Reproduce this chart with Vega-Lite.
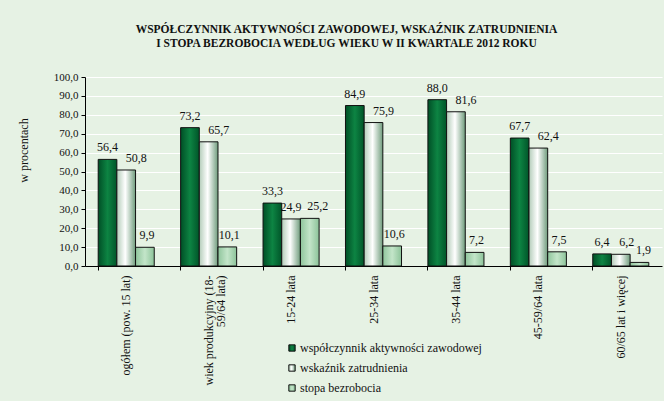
{
  "$schema": "https://vega.github.io/schema/vega-lite/v6.json",
  "autosize": {"type": "none"},
  "width": 577,
  "height": 189,
  "padding": {"left": 85, "top": 77, "right": 2, "bottom": 135},
  "background": "#e6f2e4",
  "config": {
    "locale": {"number": {"decimal": ",", "thousands": " ", "grouping": [3], "currency": ["", " zł"]}},
    "view": {"stroke": null, "fill": null},
    "font": "Liberation Serif",
    "style": {"guide-label": {"font": "Liberation Serif"}, "guide-title": {"font": "Liberation Serif"}},
    "axis": {"labelFont": "Liberation Serif", "titleFont": "Liberation Serif", "labelColor": "#111", "titleColor": "#111", "domainColor": "#000", "tickColor": "#000"},
    "legend": {"labelFont": "Liberation Serif", "titleFont": "Liberation Serif"}
  },
  "title": {
    "text": ["WSPÓŁCZYNNIK   AKTYWNOŚCI   ZAWODOWEJ,   WSKAŹNIK   ZATRUDNIENIA", "I   STOPA   BEZROBOCIA   WEDŁUG   WIEKU   W   II KWARTALE   2012   ROKU"],
    "font": "Liberation Serif",
    "fontSize": 11.5,
    "fontWeight": "bold",
    "color": "#111",
    "anchor": "middle",
    "frame": "group",
    "dx": -27,
    "offset": 22,
    "lineHeight": 14
  },
  "data": {
    "values": [
      {"kategoria": "ogółem (pow. 15 lat)", "seria": "współczynnik aktywności zawodowej", "wartosc": 56.4},
      {"kategoria": "ogółem (pow. 15 lat)", "seria": "wskaźnik zatrudnienia", "wartosc": 50.8},
      {"kategoria": "ogółem (pow. 15 lat)", "seria": "stopa bezrobocia", "wartosc": 9.9},
      {"kategoria": "wiek produkcyjny (18-59/64 lata)", "seria": "współczynnik aktywności zawodowej", "wartosc": 73.2},
      {"kategoria": "wiek produkcyjny (18-59/64 lata)", "seria": "wskaźnik zatrudnienia", "wartosc": 65.7},
      {"kategoria": "wiek produkcyjny (18-59/64 lata)", "seria": "stopa bezrobocia", "wartosc": 10.1},
      {"kategoria": "15-24 lata", "seria": "współczynnik aktywności zawodowej", "wartosc": 33.3},
      {"kategoria": "15-24 lata", "seria": "wskaźnik zatrudnienia", "wartosc": 24.9},
      {"kategoria": "15-24 lata", "seria": "stopa bezrobocia", "wartosc": 25.2},
      {"kategoria": "25-34 lata", "seria": "współczynnik aktywności zawodowej", "wartosc": 84.9},
      {"kategoria": "25-34 lata", "seria": "wskaźnik zatrudnienia", "wartosc": 75.9},
      {"kategoria": "25-34 lata", "seria": "stopa bezrobocia", "wartosc": 10.6},
      {"kategoria": "35-44 lata", "seria": "współczynnik aktywności zawodowej", "wartosc": 88.0},
      {"kategoria": "35-44 lata", "seria": "wskaźnik zatrudnienia", "wartosc": 81.6},
      {"kategoria": "35-44 lata", "seria": "stopa bezrobocia", "wartosc": 7.2},
      {"kategoria": "45-59/64 lata", "seria": "współczynnik aktywności zawodowej", "wartosc": 67.7},
      {"kategoria": "45-59/64 lata", "seria": "wskaźnik zatrudnienia", "wartosc": 62.4},
      {"kategoria": "45-59/64 lata", "seria": "stopa bezrobocia", "wartosc": 7.5},
      {"kategoria": "60/65 lat i więcej", "seria": "współczynnik aktywności zawodowej", "wartosc": 6.4},
      {"kategoria": "60/65 lat i więcej", "seria": "wskaźnik zatrudnienia", "wartosc": 6.2},
      {"kategoria": "60/65 lat i więcej", "seria": "stopa bezrobocia", "wartosc": 1.9}
    ]
  },
  "encoding": {
    "x": {
      "field": "kategoria",
      "type": "nominal",
      "sort": null,
      "scale": {"paddingInner": 0.32, "paddingOuter": 0.16},
      "axis": {
        "title": null,
        "labelAngle": -90,
        "labelFontSize": 12,
        "labelPadding": 5,
        "tickSize": 4,
        "bandPosition": 0,
        "labelExpr": "datum.value == 'wiek produkcyjny (18-59/64 lata)' ? ['wiek produkcyjny (18-', '59/64 lata)'] : datum.value",
        "labelLineHeight": 12,
        "labelLimit": 200
      }
    },
    "xOffset": {
      "field": "seria",
      "type": "nominal",
      "scale": {"domain": ["współczynnik aktywności zawodowej", "wskaźnik zatrudnienia", "stopa bezrobocia"], "paddingInner": 0, "paddingOuter": 0}
    },
    "y": {
      "field": "wartosc",
      "type": "quantitative",
      "scale": {"domain": [0, 100], "nice": false},
      "axis": {
        "title": "w procentach",
        "titleFontSize": 12,
        "titleFontWeight": "normal",
        "titleAngle": -90,
        "titleX": -62,
        "titleY": 73,
        "titleAlign": "center",
        "titleBaseline": "middle",
        "values": [0, 10, 20, 30, 40, 50, 60, 70, 80, 90, 100],
        "format": ".1f",
        "labelFontSize": 11,
        "labelPadding": 3,
        "tickSize": 4,
        "gridColor": "#ffffff",
        "gridWidth": 1.2
      }
    }
  },
  "layer": [
    {
      "mark": {
        "type": "bar",
        "strokeWidth": 1,
        "fill": {"expr": "(datum.seria || datum.value) == 'współczynnik aktywności zawodowej' ? {gradient: 'linear', x1: 0, y1: 0, x2: 1, y2: 0, stops: [{offset: 0, color: '#004f26'}, {offset: 0.5, color: '#0d8443'}, {offset: 1, color: '#005529'}]} : ((datum.seria || datum.value) == 'wskaźnik zatrudnienia' ? {gradient: 'linear', x1: 0, y1: 0, x2: 1, y2: 0, stops: [{offset: 0, color: '#b3ccb9'}, {offset: 0.45, color: '#ffffff'}, {offset: 1, color: '#6f9c7c'}]} : {gradient: 'linear', x1: 0, y1: 0, x2: 1, y2: 0, stops: [{offset: 0, color: '#8fc59c'}, {offset: 0.5, color: '#c3e5c9'}, {offset: 1, color: '#8cc399'}]})"}
      },
      "encoding": {
        "stroke": {
          "field": "seria",
          "type": "nominal",
          "scale": {
            "domain": ["współczynnik aktywności zawodowej", "wskaźnik zatrudnienia", "stopa bezrobocia"],
            "range": ["#111111", "#111111", "#111111"]
          },
          "legend": {
            "title": null,
            "orient": "none",
            "legendX": 201,
            "legendY": 265,
            "direction": "vertical",
            "labelFont": "Liberation Serif",
            "labelFontSize": 12,
            "labelColor": "#111",
            "labelOffset": 2,
            "symbolType": "square",
            "symbolSize": 40,
            "symbolStrokeWidth": 1,
            "rowPadding": 8,
            "labelLimit": 300
          }
        }
      }
    },
    {
      "mark": {
        "type": "text",
        "baseline": "bottom",
        "dy": -5,
        "dx": {"expr": "datum.kategoria == '15-24 lata' ? (datum.seria == 'stopa bezrobocia' ? 8 : 0) : (datum.kategoria == '60/65 lat i więcej' ? (datum.seria == 'wskaźnik zatrudnienia' ? 6 : (datum.seria == 'stopa bezrobocia' ? 4 : 0)) : (datum.seria == 'wskaźnik zatrudnienia' ? 10 : (datum.seria == 'stopa bezrobocia' ? 2 : 0)))"},
        "font": "Liberation Serif",
        "fontSize": 12,
        "color": "#111"
      },
      "encoding": {
        "text": {"field": "wartosc", "type": "quantitative", "format": ".1f"}
      }
    }
  ]
}
